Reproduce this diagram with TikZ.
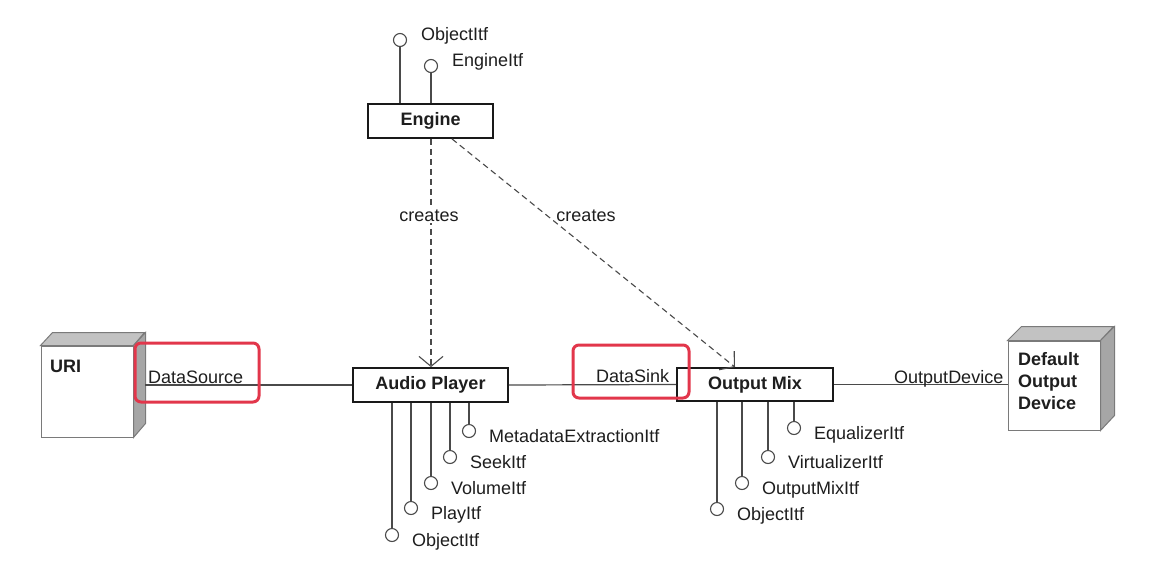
\documentclass[tikz,border=0pt]{standalone}
\usepackage{fontspec}
\setmainfont{Liberation Sans}
\usetikzlibrary{arrows.meta,calc}
\definecolor{txt}{HTML}{1E1E1E}
\definecolor{ln}{HTML}{4A4A4A}
\definecolor{cubeedge}{HTML}{7A7A7A}
\definecolor{cubetop}{HTML}{C2C2C2}
\definecolor{cubeside}{HTML}{A6A6A6}
\definecolor{hlred}{HTML}{E2364B}
\begin{document}
\begin{tikzpicture}[x=1pt,y=-1pt,
  every node/.style={font=\fontsize{18}{22}\selectfont, text=txt},
  comp/.style={draw=black!90, line width=1.8pt, fill=white, font=\fontsize{18}{22}\selectfont\bfseries, inner sep=0pt},
  cube/.style={draw=cubeedge, line width=1pt, fill=white, inner sep=0pt},
  lolli/.style={circle, draw=ln, line width=1.1pt, fill=white, minimum size=13pt, inner sep=0pt},
  stick/.style={draw=ln, line width=1.3pt},
  conn/.style={draw=ln, line width=1.2pt},
  creat/.style={draw=ln, line width=1.1pt, dash pattern=on 6pt off 4pt, -{Straight Barb[length=10pt,width=24pt,line width=1.1pt]}},
  ilbl/.style={anchor=base west, inner sep=0pt},
  hl/.style={draw=hlred, line width=3pt, rounded corners=6pt, inner sep=0pt}
]
\useasboundingbox (0,0) rectangle (1158,582);
\fill[white] (0,0) rectangle (1158,582);

% components
\node[comp, minimum width=125pt, minimum height=34pt] (engine) at (430.5,121) {Engine};
\node[comp, minimum width=155pt, minimum height=34pt] (ap) at (430.5,385) {Audio Player};
\node[comp, minimum width=156pt, minimum height=33pt] (om) at (755,384.5) {Output Mix};

% URI cube
\node[cube, minimum width=92pt, minimum height=91pt] (uri) at (87,391.5) {};
\draw[cubeedge, fill=cubetop, line width=1pt] (uri.north west) -- ++(12,-13) -- ++(92,0) -- (uri.north east) -- cycle;
\draw[cubeedge, fill=cubeside, line width=1pt] (uri.north east) -- ++(12,-13) -- ++(0,91) -- (uri.south east) -- cycle;
\node[ilbl, font=\fontsize{18}{22}\selectfont\bfseries] (urilbl) at (50,372) {URI};

% Default Output Device cube
\node[cube, minimum width=92pt, minimum height=89pt] (dod) at (1054,385.5) {};
\draw[cubeedge, fill=cubetop, line width=1pt] (dod.north west) -- ++(14,-14) -- ++(92,0) -- (dod.north east) -- cycle;
\draw[cubeedge, fill=cubeside, line width=1pt] (dod.north east) -- ++(14,-14) -- ++(0,89) -- (dod.south east) -- cycle;
\node[anchor=north west, inner sep=0pt, align=left, font=\fontsize{18}{22}\selectfont\bfseries] (dodlbl) at (1018,352) {Default\\Output\\Device};

% connectors
\coordinate (urir) at (145,385);
\draw[conn] (urir) -- (ap.west);
\draw[conn] (ap.east) -- (om.west);
\draw[conn] (om.east) -- (dod.west |- om.east);
\node[ilbl] (dsrc) at (148,383) {DataSource};
\node[ilbl] (dsink) at (596,382) {DataSink};
\node[ilbl] (odev) at (894,383) {OutputDevice};

% creates arrows
\draw[creat] (engine.south) ++(0.5,0) coordinate (e1) -- (e1 |- ap.north);
\draw[creat] ($(engine.south)+(21.5,0)$) coordinate (e2) -- ($(om.north)+(-20,0)$);
\node[fill=white, inner sep=1pt] (cr1) at (429,216) {creates};
\node[inner sep=0pt] (cr2) at (586,216) {creates};

% Engine interfaces
\node[lolli] (eo) at (400,40) {};
\node[lolli] (ee) at (431,66) {};
\draw[stick] (eo.south) -- (eo.south |- engine.north);
\draw[stick] (ee.south) -- (ee.south |- engine.north);
\node[ilbl] (eol) at (421,40) {ObjectItf};
\node[ilbl] (eel) at (452,66) {EngineItf};

% Audio Player interfaces
\foreach \n/\x/\y/\t in {a1/392/535/ObjectItf, a2/411/508/PlayItf, a3/431/483/VolumeItf, a4/450/457/SeekItf, a5/469/431/MetadataExtractionItf}{
  \node[lolli] (\n) at (\x,\y) {};
  \draw[stick] (\n.north) -- (\n.north |- ap.south);
  \node[ilbl] (\n l) at (\x+20,\y+11.5) {\t};
}

% Output Mix interfaces
\foreach \n/\x/\y/\t in {o1/717/509/ObjectItf, o2/742/483/OutputMixItf, o3/768/457/VirtualizerItf, o4/794/428/EqualizerItf}{
  \node[lolli] (\n) at (\x,\y) {};
  \draw[stick] (\n.north) -- (\n.north |- om.south);
  \node[ilbl] (\n l) at (\x+20,\y+11.5) {\t};
}

% highlight boxes
\node[hl, minimum width=124pt, minimum height=59pt] (hl1) at (197,372.5) {};
\node[hl, minimum width=116pt, minimum height=53pt] (hl2) at (631,371.5) {};
\end{tikzpicture}
\end{document}
